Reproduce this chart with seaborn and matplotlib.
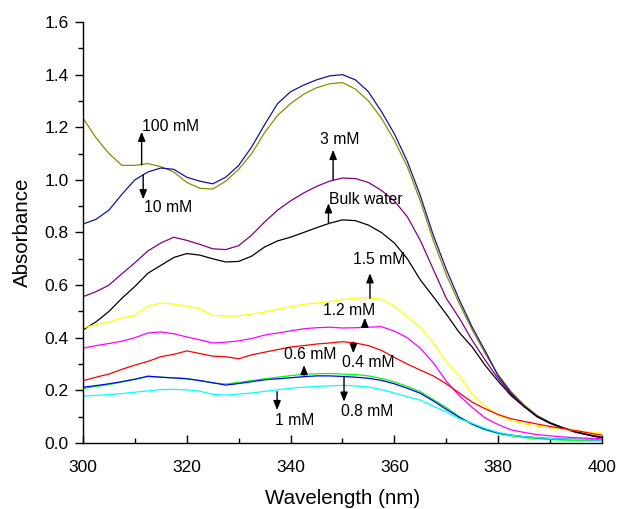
import numpy as np
import pandas as pd
import matplotlib
matplotlib.use("Agg")
import matplotlib.pyplot as plt
import seaborn as sns
from matplotlib.ticker import MultipleLocator

wavelength = [300 + 2.5 * i for i in range(41)]

abs_100mM = [1.235, 1.16, 1.10, 1.055, 1.055, 1.062, 1.05, 1.03, 0.99, 0.968, 0.965,
             0.995, 1.04, 1.10, 1.18, 1.245, 1.29, 1.325, 1.35, 1.365, 1.37,
             1.345, 1.30, 1.235, 1.15, 1.05, 0.92, 0.77, 0.64, 0.53, 0.43,
             0.34, 0.26, 0.195, 0.145, 0.105, 0.078, 0.058, 0.043, 0.032, 0.024]
abs_10mM = [0.832, 0.85, 0.885, 0.945, 1.0, 1.03, 1.045, 1.04, 1.01, 0.995, 0.985,
            1.01, 1.055, 1.125, 1.21, 1.29, 1.335, 1.36, 1.38, 1.395, 1.40,
            1.38, 1.335, 1.26, 1.175, 1.07, 0.94, 0.79, 0.66, 0.545, 0.44,
            0.35, 0.255, 0.19, 0.14, 0.102, 0.077, 0.058, 0.042, 0.03, 0.02]
abs_3mM = [0.556, 0.575, 0.60, 0.643, 0.685, 0.73, 0.76, 0.782, 0.77, 0.755, 0.738,
           0.735, 0.75, 0.79, 0.84, 0.885, 0.92, 0.95, 0.975, 0.995, 1.007,
           1.005, 0.99, 0.96, 0.92, 0.86, 0.77, 0.66, 0.55, 0.475, 0.39,
           0.315, 0.245, 0.185, 0.14, 0.10, 0.075, 0.055, 0.04, 0.03, 0.02]
abs_bulk = [0.43, 0.46, 0.50, 0.55, 0.595, 0.645, 0.675, 0.705, 0.72, 0.714, 0.70,
            0.688, 0.69, 0.71, 0.745, 0.768, 0.782, 0.80, 0.818, 0.835, 0.848,
            0.845, 0.828, 0.80, 0.76, 0.70, 0.62, 0.556, 0.49, 0.42, 0.365,
            0.295, 0.235, 0.18, 0.138, 0.10, 0.075, 0.057, 0.042, 0.03, 0.02]
abs_1_5mM = [0.437, 0.45, 0.46, 0.475, 0.485, 0.52, 0.532, 0.528, 0.52, 0.51, 0.485,
             0.482, 0.483, 0.49, 0.498, 0.508, 0.518, 0.527, 0.532, 0.537, 0.545,
             0.55, 0.552, 0.547, 0.52, 0.48, 0.44, 0.38, 0.31, 0.255, 0.185,
             0.14, 0.105, 0.085, 0.073, 0.064, 0.058, 0.052, 0.047, 0.042, 0.038]
abs_1_2mM = [0.36, 0.37, 0.378, 0.387, 0.40, 0.418, 0.422, 0.415, 0.403, 0.392, 0.38,
             0.383, 0.388, 0.397, 0.41, 0.418, 0.426, 0.434, 0.438, 0.44, 0.437,
             0.438, 0.44, 0.442, 0.425, 0.40, 0.36, 0.305, 0.235, 0.18, 0.135,
             0.095, 0.07, 0.05, 0.04, 0.032, 0.027, 0.023, 0.02, 0.018, 0.016]
abs_0_4mM = [0.237, 0.25, 0.262, 0.28, 0.296, 0.31, 0.328, 0.337, 0.35, 0.34, 0.33,
             0.328, 0.32, 0.335, 0.345, 0.355, 0.365, 0.37, 0.376, 0.38, 0.385,
             0.38, 0.37, 0.352, 0.325, 0.30, 0.277, 0.255, 0.225, 0.19, 0.155,
             0.13, 0.108, 0.092, 0.082, 0.072, 0.063, 0.055, 0.047, 0.038, 0.03]
abs_0_6mM = [0.207, 0.215, 0.222, 0.232, 0.243, 0.252, 0.25, 0.248, 0.245, 0.238, 0.228,
             0.224, 0.23, 0.237, 0.244, 0.25, 0.256, 0.261, 0.263, 0.264, 0.262,
             0.26, 0.255, 0.245, 0.232, 0.215, 0.195, 0.165, 0.135, 0.10, 0.07,
             0.05, 0.036, 0.027, 0.021, 0.016, 0.013, 0.011, 0.01, 0.009, 0.008]
abs_0_8mM = [0.212, 0.218, 0.225, 0.233, 0.242, 0.254, 0.25, 0.247, 0.244, 0.237, 0.229,
             0.22, 0.226, 0.233, 0.24, 0.244, 0.248, 0.252, 0.255, 0.255, 0.253,
             0.25, 0.246, 0.238, 0.225, 0.208, 0.189, 0.16, 0.128, 0.098, 0.072,
             0.052, 0.038, 0.03, 0.024, 0.02, 0.017, 0.015, 0.014, 0.013, 0.012]
abs_1mM = [0.178, 0.181, 0.184, 0.188, 0.193, 0.198, 0.203, 0.204, 0.202, 0.197, 0.185,
           0.182, 0.186, 0.19, 0.196, 0.202, 0.208, 0.212, 0.215, 0.217, 0.219,
           0.217, 0.213, 0.203, 0.19, 0.176, 0.163, 0.14, 0.118, 0.092, 0.075,
           0.055, 0.04, 0.03, 0.024, 0.02, 0.017, 0.015, 0.013, 0.012, 0.011]

series_names = ["100 mM", "10 mM", "3 mM", "Bulk water", "1.5 mM", "1.2 mM",
                "0.4 mM", "0.6 mM", "0.8 mM", "1 mM"]
series_values = [abs_100mM, abs_10mM, abs_3mM, abs_bulk, abs_1_5mM, abs_1_2mM,
                 abs_0_4mM, abs_0_6mM, abs_0_8mM, abs_1mM]
series_colors = ["#8c8c00", "#14149a", "#800080", "#000000", "#ffff00", "#ff00ff",
                 "#ff0000", "#00ff00", "#0000ff", "#00ffff"]

x_ticks = [300, 320, 340, 360, 380, 400]
y_ticks = [0.0, 0.2, 0.4, 0.6, 0.8, 1.0, 1.2, 1.4, 1.6]

# annotations: label, text-left x, text-center y, arrow x, arrow tail y, arrow head y
annotations = [
    ("100 mM", 311.3, 1.202, 311.3, 1.057, 1.183),
    ("10 mM", 311.8, 0.896, 311.6, 1.019, 0.926),
    ("3 mM", 345.7, 1.152, 348.2, 1.000, 1.114),
    ("Bulk water", 347.4, 0.927, 347.3, 0.835, 0.911),
    ("1.5 mM", 352.1, 0.698, 355.3, 0.550, 0.645),
    ("1.2 mM", 346.2, 0.505, 354.3, 0.442, 0.476),
    ("0.6 mM", 338.8, 0.338, 342.6, 0.258, 0.296),
    ("0.4 mM", 349.9, 0.305, 352.1, 0.383, 0.341),
    ("0.8 mM", 349.8, 0.119, 350.3, 0.252, 0.157),
    ("1 mM", 337.0, 0.085, 337.4, 0.195, 0.125),
]

frames = []
for name, vals in zip(series_names, series_values):
    frames.append(pd.DataFrame({"Wavelength": wavelength, "Absorbance": vals, "Sample": name}))
df = pd.concat(frames, ignore_index=True)

sns.set_style("ticks")
plt.rcParams["font.family"] = ["Liberation Sans", "DejaVu Sans"]
plt.rcParams["text.color"] = "black"
plt.rcParams["axes.labelcolor"] = "black"
plt.rcParams["xtick.color"] = "black"
plt.rcParams["ytick.color"] = "black"
plt.rcParams["axes.edgecolor"] = "black"

fig = plt.figure(figsize=(6.18, 5.09), dpi=100)
ax = fig.add_axes([0.1343, 0.1297, 0.8397, 0.8271])

sns.lineplot(data=df, x="Wavelength", y="Absorbance", hue="Sample",
             hue_order=series_names, palette=series_colors, linewidth=0.9,
             legend=False, ax=ax, sort=False, estimator=None)

ax.set_xlim(300, 400)
ax.set_ylim(0, 1.6)
ax.set_xticks(x_ticks)
ax.set_yticks(y_ticks)
ax.set_yticklabels([f"{v:.1f}" for v in y_ticks])
ax.xaxis.set_minor_locator(MultipleLocator(10))
ax.yaxis.set_minor_locator(MultipleLocator(0.1))

for s in ["top", "right"]:
    ax.spines[s].set_visible(False)
for s in ["left", "bottom"]:
    ax.spines[s].set_linewidth(1.0)
    ax.spines[s].set_color("black")

ax.tick_params(axis="x", which="major", direction="in", length=5.5, width=1.0,
               labelsize=12.5, pad=12, colors="black", labelcolor="black")
ax.tick_params(axis="x", which="minor", direction="in", length=3.5, width=1.0, colors="black")
ax.tick_params(axis="y", which="major", direction="out", length=5.5, width=1.0,
               labelsize=12.5, pad=5, colors="black", labelcolor="black")
ax.tick_params(axis="y", which="minor", direction="out", length=3.5, width=1.0, colors="black")

ax.set_xlabel("Wavelength (nm)", fontsize=14.8, labelpad=10.5, color="black")
ax.set_ylabel("Absorbance", fontsize=14.8, labelpad=9, color="black")

for label, tx, ty, ax_x, tail, head in annotations:
    ax.text(tx, ty, label, fontsize=11.3, ha="left", va="center", color="black")
    ax.annotate("", xy=(ax_x, head), xytext=(ax_x, tail),
                arrowprops=dict(arrowstyle="-|>,head_length=0.55,head_width=0.22",
                                color="black", lw=1.0, shrinkA=0, shrinkB=0,
                                mutation_scale=10))

fig.savefig("out.png", dpi=100)
